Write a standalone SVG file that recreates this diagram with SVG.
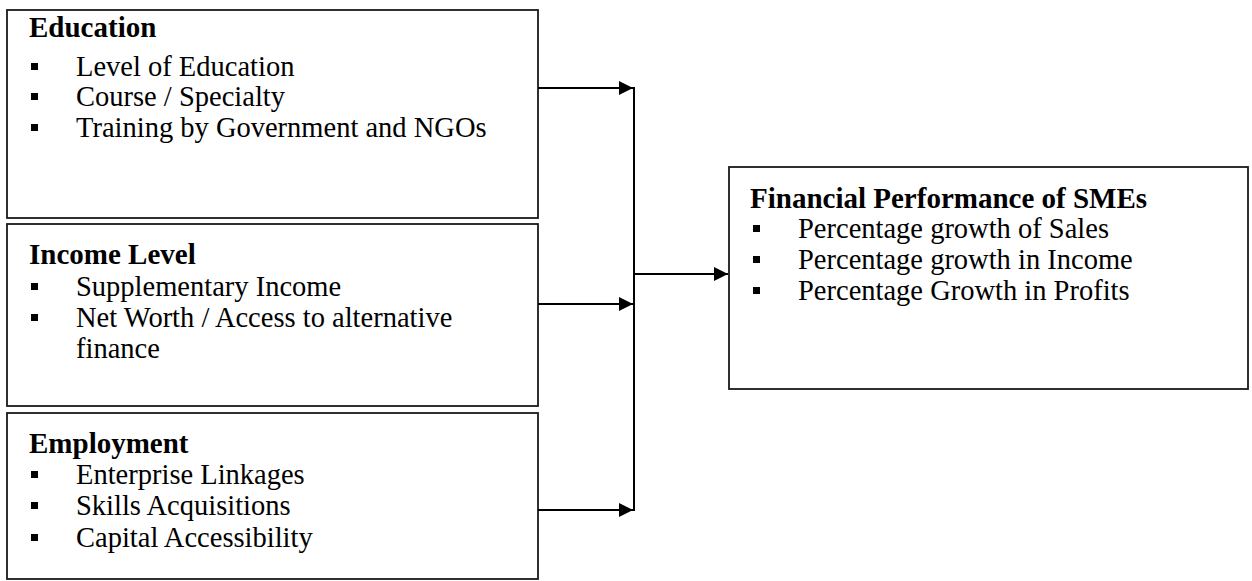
<svg xmlns="http://www.w3.org/2000/svg" width="1252" height="581" viewBox="0 0 1252 581">
<defs>
<style>
.box{fill:#fff;stroke:#1a1a1a;stroke-width:1.8}
.t{font-family:"Liberation Serif","Times New Roman",serif;font-size:28.5px;fill:#000}
.h{font-weight:bold;font-size:29px}
.b{fill:#000}
.c{stroke:#000;stroke-width:2;fill:none}
</style>
<marker id="ah" viewBox="0 0 10 10" refX="10" refY="5" markerWidth="7" markerHeight="7" markerUnits="strokeWidth" orient="auto">
<path d="M0,0 L10,5 L0,10 z" fill="#000"/>
</marker>
</defs>
<rect width="1252" height="581" fill="#fff"/>
<g id="education">
<rect class="box" x="7" y="10" width="531" height="208"/>
<text class="t h" x="29" y="37">Education</text>
<rect class="b" x="31" y="63" width="7" height="7"/>
<text class="t" x="76" y="76">Level of Education</text>
<rect class="b" x="31" y="93" width="7" height="7"/>
<text class="t" x="76" y="106">Course / Specialty</text>
<rect class="b" x="31" y="124" width="7" height="7"/>
<text class="t" x="76" y="137">Training by Government and NGOs</text>
</g>
<g id="income">
<rect class="box" x="7" y="224" width="531" height="182"/>
<text class="t h" x="29" y="264">Income Level</text>
<rect class="b" x="31" y="283" width="7" height="7"/>
<text class="t" x="76" y="296">Supplementary Income</text>
<rect class="b" x="31" y="314" width="7" height="7"/>
<text class="t" x="76" y="327">Net Worth / Access to alternative</text>
<text class="t" x="76" y="358">finance</text>
</g>
<g id="employment">
<rect class="box" x="7" y="413" width="531" height="166"/>
<text class="t h" x="29" y="453">Employment</text>
<rect class="b" x="31" y="471" width="7" height="7"/>
<text class="t" x="76" y="484">Enterprise Linkages</text>
<rect class="b" x="31" y="502" width="7" height="7"/>
<text class="t" x="76" y="515">Skills Acquisitions</text>
<rect class="b" x="31" y="534" width="7" height="7"/>
<text class="t" x="76" y="547">Capital Accessibility</text>
</g>
<g id="financial">
<rect class="box" x="729" y="167" width="519" height="222"/>
<text class="t h" x="750" y="208">Financial Performance of SMEs</text>
<rect class="b" x="753" y="225" width="7" height="7"/>
<text class="t" x="798" y="238">Percentage growth of Sales</text>
<rect class="b" x="753" y="256" width="7" height="7"/>
<text class="t" x="798" y="269">Percentage growth in Income</text>
<rect class="b" x="753" y="287" width="7" height="7"/>
<text class="t" x="798" y="300">Percentage Growth in Profits</text>
</g>
<g id="connectors">
<line class="c" x1="538" y1="88" x2="633" y2="88" marker-end="url(#ah)"/>
<line class="c" x1="538" y1="304" x2="633" y2="304" marker-end="url(#ah)"/>
<line class="c" x1="538" y1="510" x2="633" y2="510" marker-end="url(#ah)"/>
<line class="c" x1="634" y1="87" x2="634" y2="511"/>
<line class="c" x1="634" y1="274" x2="728" y2="274" marker-end="url(#ah)"/>
</g>
</svg>
